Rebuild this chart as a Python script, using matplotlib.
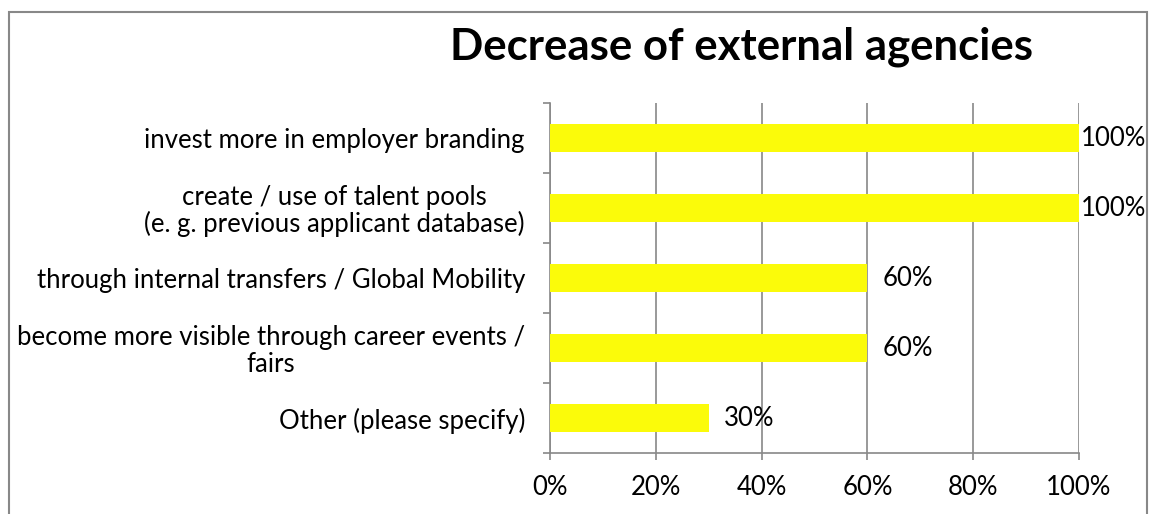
import matplotlib
matplotlib.use("Agg")
import matplotlib.pyplot as plt
from matplotlib.patches import Rectangle

plt.rcParams['font.family'] = ['Lato', 'DejaVu Sans']

# survey answers, top to bottom
categories = [
    "invest more in employer branding",
    "create / use of talent pools\n(e. g. previous applicant database)",
    "through internal transfers / Global Mobility",
    "become more visible through career events /\nfairs",
    "Other (please specify)",
]
shares = [100, 100, 60, 60, 30]
xticks = [0, 20, 40, 60, 80, 100]

grey = "#888888"
fs = 18.5

fig = plt.figure(figsize=(11.5, 5.14), dpi=100)
ax = fig.add_axes([550 / 1150, 61 / 514, 529 / 1150, 350 / 514])

n = len(categories)
ypos = [n - 1 - i for i in range(n)]

ax.barh(ypos, shares, height=0.4, color="#FBFB0A", zorder=3)

for y, v in zip(ypos, shares):
    off = 1 if v >= 100 else 11
    ax.annotate(f"{v}%", xy=(v, y), xytext=(off, 0), textcoords="offset points",
                ha="left", va="center", fontsize=fs, color="black", zorder=4)

ax.set_xlim(0, 100)
ax.set_ylim(-0.5, n - 0.5)

ax.set_xticks(xticks)
ax.set_xticklabels([f"{t}%" for t in xticks], fontsize=fs)
ax.tick_params(axis="x", direction="out", length=5, width=1.2, color=grey, pad=11)

# category boundaries get the tick marks, centres get the labels
ax.set_yticks([i - 0.5 for i in range(n + 1)])
ax.set_yticklabels([])
ax.tick_params(axis="y", which="major", direction="out", length=5, width=1.2, color=grey)
ax.set_yticks(ypos, minor=True)
ax.set_yticklabels(categories, minor=True, fontsize=fs, multialignment="center",
                   linespacing=1.05)
ax.tick_params(axis="y", which="minor", length=0, pad=18)

ax.grid(axis="x", color=grey, linewidth=1.2, zorder=0)
for s in ["top", "right"]:
    ax.spines[s].set_visible(False)
for s in ["left", "bottom"]:
    ax.spines[s].set_color(grey)
    ax.spines[s].set_linewidth(1.2)

fig.text(741 / 1150, 1 - 47 / 514, "Decrease of external agencies",
         ha="center", va="center", fontsize=31.5, fontweight="bold")

# outer frame of the chart area
fig.patches.append(Rectangle((9 / 1150, -0.05), 1138 / 1150, 1.05 - 12 / 514,
                             transform=fig.transFigure, fill=False,
                             edgecolor=grey, linewidth=1.5))

fig.savefig("out.png", dpi=100)
